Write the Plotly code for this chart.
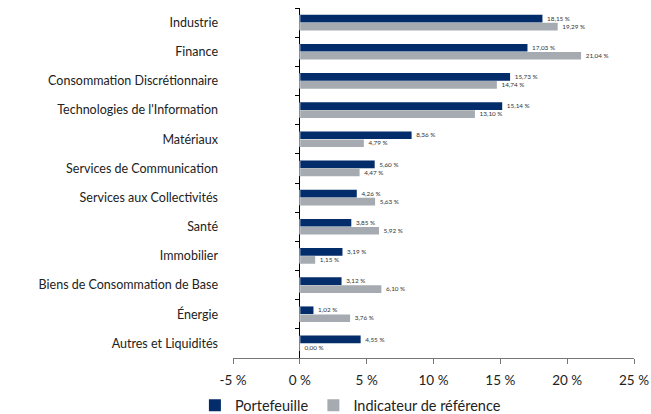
import plotly.graph_objects as go

categories = ["Industrie", "Finance", "Consommation Discrétionnaire", "Technologies de l'Information",
              "Matériaux", "Services de Communication", "Services aux Collectivités", "Santé",
              "Immobilier", "Biens de Consommation de Base", "Énergie", "Autres et Liquidités"]
portefeuille = [18.15, 17.03, 15.73, 15.14, 8.36, 5.60, 4.26, 3.85, 3.19, 3.12, 1.02, 4.55]
indicateur = [19.29, 21.04, 14.74, 13.10, 4.79, 4.47, 5.63, 5.92, 1.15, 6.10, 3.76, 0.00]
tick_vals = [-5, 0, 5, 10, 15, 20, 25]
tick_text = ["-5 %", "0 %", "5 %", "10 %", "15 %", "20 %", "25 %"]

def fmt(v):
    return " " + f"{v:.2f}".replace(".", ",") + " %"

FONT = "Lato"
fig = go.Figure()
fig.add_trace(go.Bar(y=categories, x=portefeuille, orientation="h", name="Portefeuille",
                     marker=dict(color="#032c6a", line=dict(width=0)),
                     text=[fmt(v) for v in portefeuille], textposition="outside",
                     textfont=dict(size=7.5, color="#333", family=FONT), cliponaxis=False))
fig.add_trace(go.Bar(y=categories, x=indicateur, orientation="h", name="Indicateur de référence",
                     marker=dict(color="#a5abb0", line=dict(width=0)),
                     text=[fmt(v) for v in indicateur], textposition="outside",
                     textfont=dict(size=7.5, color="#333", family=FONT), cliponaxis=False))
# invisible trace to carry the secondary y axis (ticks at x=0)
fig.add_trace(go.Bar(y=categories, x=[0]*len(categories), orientation="h", yaxis="y2",
                     showlegend=False, hoverinfo="skip", marker=dict(color="rgba(0,0,0,0)")))

fig.update_layout(
    width=651, height=414,
    margin=dict(l=233, r=17, t=8, b=56, autoexpand=False),
    paper_bgcolor="white", plot_bgcolor="white",
    barmode="group", bargap=0.45, bargroupgap=0.05,
    font=dict(family=FONT, color="#222"),
    xaxis=dict(range=[-5, 25], tickvals=tick_vals, ticktext=tick_text, showgrid=False,
               zeroline=True, zerolinecolor="#000", zerolinewidth=1,
               showline=True, linecolor="#777", linewidth=1, automargin=False,
               ticks="outside", ticklen=5, tickcolor="#777", ticklabelstandoff=5,
               tickfont=dict(size=13.5, color="#222", family=FONT)),
    yaxis=dict(type="category", categoryorder="array", categoryarray=categories,
               autorange="reversed", showgrid=False, showline=False, ticks="",
               automargin=False, ticklabelstandoff=14,
               tickfont=dict(size=12.5, color="#222", family=FONT)),
    yaxis2=dict(type="category", overlaying="y", matches="y", anchor="free", position=5/30,
                side="left", showticklabels=False, showgrid=False, showline=False,
                automargin=False,
                ticks="outside", ticklen=5, tickcolor="#000", tickson="boundaries"),
    legend=dict(orientation="h", x=-0.095, xanchor="left", y=-0.135, yanchor="middle",
                font=dict(size=14.5, color="#222", family=FONT), traceorder="normal",
                itemwidth=30, tracegroupgap=0),
)
fig.write_html("out.html", post_script="document.body.style.margin='0';",
               config={"displayModeBar": False})
